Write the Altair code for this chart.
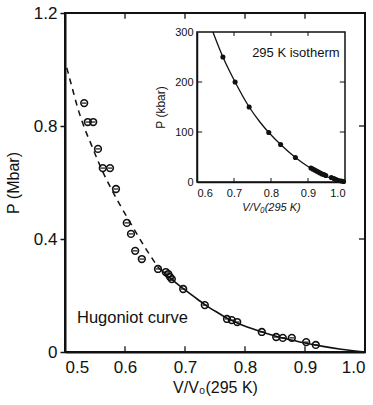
import altair as alt
import pandas as pd

# ---------------- main panel: Hugoniot (P in Mbar vs V/V0) ----------------
hug_v = [0.532, 0.538, 0.547, 0.555, 0.563, 0.575, 0.585, 0.603, 0.610, 0.617,
         0.628, 0.655, 0.668, 0.672, 0.675, 0.678, 0.697, 0.733, 0.770, 0.778,
         0.787, 0.828, 0.852, 0.863, 0.878, 0.902, 0.918]
hug_p = [0.881, 0.814, 0.814, 0.719, 0.651, 0.651, 0.577, 0.457, 0.418, 0.358,
         0.329, 0.294, 0.283, 0.276, 0.266, 0.258, 0.223, 0.166, 0.117, 0.113,
         0.106, 0.071, 0.053, 0.050, 0.050, 0.035, 0.025]

dash_v = [0.503, 0.512, 0.521, 0.533, 0.545, 0.555, 0.565, 0.575, 0.585, 0.595,
          0.607, 0.620, 0.633, 0.645, 0.655]
dash_p = [1.006, 0.935, 0.865, 0.790, 0.728, 0.676, 0.629, 0.586, 0.546, 0.508,
          0.464, 0.417, 0.371, 0.332, 0.300]

sol_v = [0.655, 0.670, 0.685, 0.700, 0.715, 0.733, 0.750, 0.770, 0.790, 0.810,
         0.830, 0.850, 0.870, 0.900, 0.930, 0.960, 1.000]
sol_p = [0.300, 0.271, 0.245, 0.220, 0.196, 0.168, 0.145, 0.120, 0.100, 0.084,
         0.070, 0.057, 0.046, 0.032, 0.020, 0.010, 0.000]

main_x_ticks = [0.5, 0.6, 0.7, 0.8, 0.9, 1.0]
main_y_ticks = [0.0, 0.4, 0.8, 1.2]
inner_x_ticks = [0.6, 0.7, 0.8, 0.9]
inner_y_ticks = [0.4, 0.8]

# ---------------- inset: 295 K isotherm (P in kbar) ----------------
iso_v = [0.670, 0.703, 0.741, 0.794, 0.826, 0.866, 0.908, 0.913, 0.918, 0.923,
         0.928, 0.933, 0.938, 0.943, 0.948, 0.963, 0.970, 0.976, 0.983, 0.990, 0.996]
iso_p = [250, 200, 150, 99, 75, 49, 28, 26, 24, 22, 20, 18, 16, 15, 13, 9, 7, 5, 3, 2, 1]

isoc_v = [0.643, 0.670, 0.703, 0.741, 0.770, 0.794, 0.826, 0.866, 0.900, 0.930,
          0.960, 0.980, 1.000]
isoc_p = [300, 250, 200, 150, 120, 99, 75, 49, 31, 18, 8, 3, 0]

inset_x_ticks = [0.6, 0.7, 0.8, 0.9, 1.0]
inset_y_ticks = [0, 100, 200, 300]
inset_inner_x = [0.7, 0.8, 0.9]
inset_inner_y = [100, 200]

FONT = "Liberation Sans"
INK = "#111111"

hug_df = pd.DataFrame({"v": hug_v, "p": hug_p})
dash_df = pd.DataFrame({"v": dash_v, "p": dash_p})
sol_df = pd.DataFrame({"v": sol_v, "p": sol_p})
xt_df = pd.DataFrame({"v": inner_x_ticks})
yt_df = pd.DataFrame({"p": inner_y_ticks})

xs = alt.Scale(domain=[0.5, 1.0], nice=False, zero=False)
ys = alt.Scale(domain=[0, 1.2], nice=False)

x_main = alt.X("v:Q", scale=xs, axis=alt.Axis(
    values=main_x_ticks, format=".1f", ticks=False, grid=False,
    labelFont=FONT, labelFontSize=17, labelColor=INK, labelPadding=7,
    domainColor=INK, domainWidth=2,
    title="V/V₀(295 K)", titleFont=FONT, titleFontSize=16,
    titleFontWeight="normal", titleColor=INK, titlePadding=4))
y_main = alt.Y("p:Q", scale=ys, axis=alt.Axis(
    values=main_y_ticks, grid=False,
    labelExpr="datum.value == 0 ? '0' : format(datum.value, '.1f')",
    labelFont=FONT, labelFontSize=17, labelColor=INK, labelPadding=3,
    tickSize=5, tickWidth=1.5, tickColor=INK,
    domainColor=INK, domainWidth=2,
    title="P (Mbar)", titleFont=FONT, titleFontSize=16,
    titleFontWeight="normal", titleColor=INK, titlePadding=12))

main_pts = alt.Chart(hug_df).mark_point(
    shape="circle", filled=False, size=45, strokeWidth=1.6, color=INK, opacity=1
).encode(x=x_main, y=y_main)
main_bars = alt.Chart(hug_df).mark_point(
    shape="stroke", size=20, strokeWidth=1.2, color=INK, opacity=1
).encode(x="v:Q", y="p:Q")
main_dash = alt.Chart(dash_df).mark_line(
    color=INK, strokeWidth=1.5, strokeDash=[6, 5], interpolate="monotone"
).encode(x="v:Q", y="p:Q")
main_sol = alt.Chart(sol_df).mark_line(
    color=INK, strokeWidth=1.6, interpolate="monotone"
).encode(x="v:Q", y="p:Q")
tick_bottom = alt.Chart(xt_df).mark_rule(color=INK, strokeWidth=1.3).encode(
    x="v:Q", y=alt.datum(0), y2=alt.datum(0.02))
tick_top = alt.Chart(xt_df).mark_rule(color=INK, strokeWidth=1.3).encode(
    x="v:Q", y=alt.datum(1.2), y2=alt.datum(1.18))
tick_right = alt.Chart(yt_df).mark_rule(color=INK, strokeWidth=1.3).encode(
    y="p:Q", x=alt.datum(1.0), x2=alt.datum(0.99))
hug_label = alt.Chart(pd.DataFrame({"t": ["Hugoniot curve"]})).mark_text(
    align="left", baseline="middle", font=FONT, fontSize=16.5, color=INK
).encode(x=alt.datum(0.52), y=alt.datum(0.12), text="t:N")

main_layer = alt.layer(main_dash, main_sol, main_pts, main_bars,
                       tick_bottom, tick_top, tick_right, hug_label)

# ---------------- inset layer ----------------
iso_df = pd.DataFrame({"iv": iso_v, "ip": iso_p})
isoc_df = pd.DataFrame({"iv": isoc_v, "ip": isoc_p})
ixt_df = pd.DataFrame({"iv": inset_inner_x})
iyt_df = pd.DataFrame({"ip": inset_inner_y})

ixs = alt.Scale(domain=[0.6, 1.0], range=[132, 280], nice=False, zero=False)
iys = alt.Scale(domain=[0, 300], range=[169, 19], nice=False)

x_in = alt.X("iv:Q", scale=ixs, axis=alt.Axis(
    orient="bottom", offset=-170, values=inset_x_ticks, format=".1f",
    ticks=False, grid=False, labelFont=FONT, labelFontSize=11, labelColor=INK,
    labelPadding=5, domainColor=INK, domainWidth=1.5,
    title="V/V₀(295 K)", titleFont=FONT, titleFontSize=11,
    titleFontStyle="italic", titleFontWeight="normal", titleColor=INK,
    titlePadding=3))
y_in = alt.Y("ip:Q", scale=iys, axis=alt.Axis(
    orient="left", offset=-132, values=inset_y_ticks, ticks=False, grid=False,
    labelFont=FONT, labelFontSize=11, labelColor=INK, labelPadding=4,
    domainColor=INK, domainWidth=1.5,
    title="P (kbar)", titleFont=FONT, titleFontSize=12,
    titleFontWeight="normal", titleColor=INK, titlePadding=7))

inset_curve = alt.Chart(isoc_df).mark_line(
    color=INK, strokeWidth=1.3, interpolate="monotone"
).encode(x=x_in, y=y_in)
inset_pts = alt.Chart(iso_df).mark_point(
    shape="circle", filled=True, size=26, color=INK, opacity=1
).encode(x="iv:Q", y="ip:Q")
inset_frame = alt.Chart(pd.DataFrame({"k": [0]})).mark_rect(
    filled=False, stroke=INK, strokeWidth=1.5
).encode(x=alt.datum(0.6), x2=alt.datum(1.0), y=alt.datum(0), y2=alt.datum(300))
itick_bottom = alt.Chart(ixt_df).mark_rule(color=INK, strokeWidth=1).encode(
    x="iv:Q", y=alt.datum(0), y2=alt.datum(8))
itick_top = alt.Chart(ixt_df).mark_rule(color=INK, strokeWidth=1).encode(
    x="iv:Q", y=alt.datum(300), y2=alt.datum(292))
itick_left = alt.Chart(iyt_df).mark_rule(color=INK, strokeWidth=1).encode(
    y="ip:Q", x=alt.datum(0.6), x2=alt.datum(0.614))
itick_right = alt.Chart(iyt_df).mark_rule(color=INK, strokeWidth=1).encode(
    y="ip:Q", x=alt.datum(1.0), x2=alt.datum(0.986))
iso_label = alt.Chart(pd.DataFrame({"t": ["295 K isotherm"]})).mark_text(
    align="left", baseline="middle", font=FONT, fontSize=13, color=INK
).encode(x=alt.datum(0.749), y=alt.datum(258), text="t:N")

inset_layer = alt.layer(inset_curve, inset_pts, inset_frame, itick_bottom,
                        itick_top, itick_left, itick_right, iso_label)

chart = alt.layer(main_layer, inset_layer).resolve_scale(
    x="independent", y="independent"
).properties(
    width=300, height=339,
    autosize=alt.AutoSizeParams(type="none"),
    padding={"left": 65, "top": 13, "right": 8, "bottom": 53},
    background="white",
).configure_view(stroke=INK, strokeWidth=2)

chart.save("out.html", embed_options={"renderer": "svg", "actions": False})
